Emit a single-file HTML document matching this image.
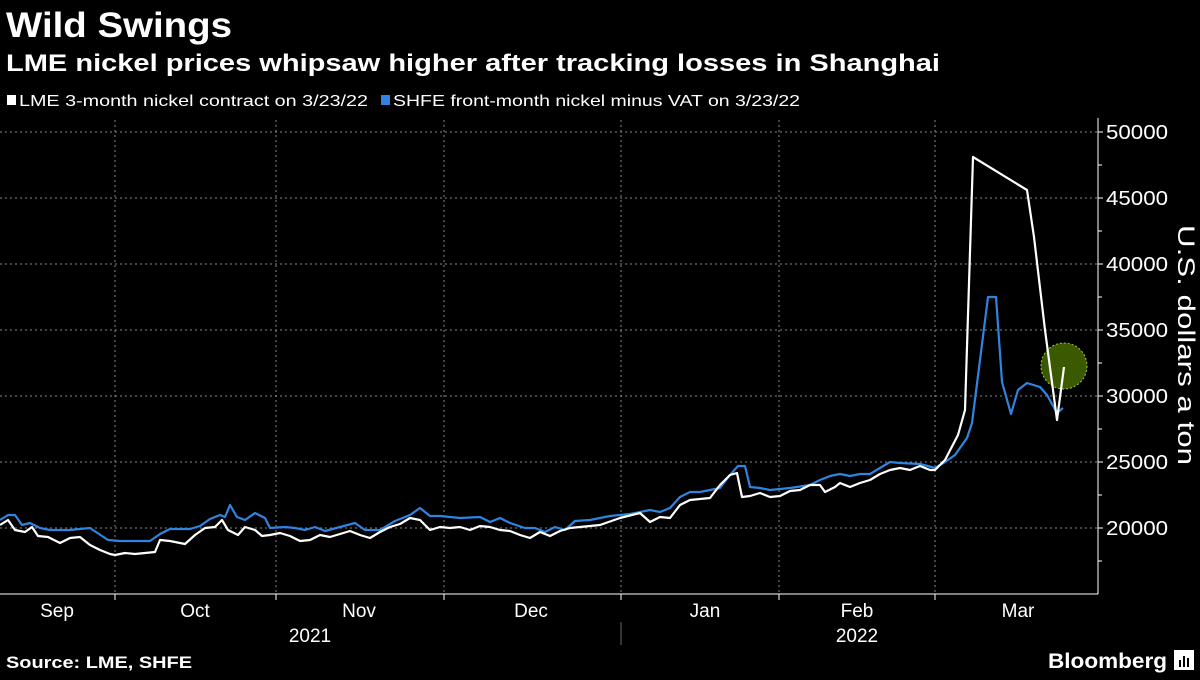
<!DOCTYPE html>
<html><head><meta charset="utf-8"><style>
body{margin:0;background:#000;width:1200px;height:675px;overflow:hidden;font-family:"Liberation Sans",sans-serif;color:#fff}
</style></head><body>
<svg width="1200" height="675" xmlns="http://www.w3.org/2000/svg" font-family="Liberation Sans, sans-serif">
<rect width="1200" height="675" fill="#000"/>
<text x="6" y="37" font-size="35" font-weight="bold" fill="#fff" textLength="226" lengthAdjust="spacingAndGlyphs">Wild Swings</text>
<text x="6" y="71" font-size="24" font-weight="bold" fill="#fff" textLength="934" lengthAdjust="spacingAndGlyphs">LME nickel prices whipsaw higher after tracking losses in Shanghai</text>
<rect x="7" y="95" width="9" height="10" fill="#fff"/>
<text x="19" y="106" font-size="16" fill="#fff" textLength="349" lengthAdjust="spacingAndGlyphs">LME 3-month nickel contract on 3/23/22</text>
<rect x="381" y="95" width="9" height="10" fill="#2f84e0"/>
<text x="393" y="106" font-size="16" fill="#fff" textLength="407" lengthAdjust="spacingAndGlyphs">SHFE front-month nickel minus VAT on 3/23/22</text>
<g stroke="#888" stroke-dasharray="2,3" stroke-width="1">
<line x1="0" y1="132" x2="1098" y2="132"/><line x1="0" y1="198" x2="1098" y2="198"/>
<line x1="0" y1="264" x2="1098" y2="264"/><line x1="0" y1="330" x2="1098" y2="330"/>
<line x1="0" y1="396" x2="1098" y2="396"/><line x1="0" y1="462" x2="1098" y2="462"/>
<line x1="0" y1="528" x2="1098" y2="528"/>
<line x1="115" y1="120" x2="115" y2="594"/><line x1="276" y1="120" x2="276" y2="594"/>
<line x1="444" y1="120" x2="444" y2="594"/><line x1="621" y1="120" x2="621" y2="594"/>
<line x1="779" y1="120" x2="779" y2="594"/><line x1="935" y1="120" x2="935" y2="594"/>
</g>
<line x1="0" y1="594" x2="1098" y2="594" stroke="#fff" stroke-width="1"/>
<line x1="1098" y1="118" x2="1098" y2="594" stroke="#fff" stroke-width="1"/>
<g stroke="#fff" stroke-width="1">
<line x1="115" y1="594" x2="115" y2="600"/><line x1="276" y1="594" x2="276" y2="600"/><line x1="444" y1="594" x2="444" y2="600"/><line x1="621" y1="594" x2="621" y2="600"/><line x1="779" y1="594" x2="779" y2="600"/><line x1="935" y1="594" x2="935" y2="600"/>
<line x1="1098" y1="132" x2="1103" y2="132"/><line x1="1098" y1="198" x2="1103" y2="198"/><line x1="1098" y1="264" x2="1103" y2="264"/><line x1="1098" y1="330" x2="1103" y2="330"/><line x1="1098" y1="396" x2="1103" y2="396"/><line x1="1098" y1="462" x2="1103" y2="462"/><line x1="1098" y1="528" x2="1103" y2="528"/>
<line x1="1098" y1="165" x2="1102" y2="165"/><line x1="1098" y1="231" x2="1102" y2="231"/><line x1="1098" y1="297" x2="1102" y2="297"/><line x1="1098" y1="363" x2="1102" y2="363"/><line x1="1098" y1="429" x2="1102" y2="429"/><line x1="1098" y1="495" x2="1102" y2="495"/><line x1="1098" y1="561" x2="1102" y2="561"/>
</g>
<line x1="621" y1="622" x2="621" y2="645" stroke="#666"/>
<g font-size="20" fill="#fff">
<text x="1106" y="139" textLength="62" lengthAdjust="spacingAndGlyphs">50000</text><text x="1106" y="205" textLength="62" lengthAdjust="spacingAndGlyphs">45000</text><text x="1106" y="271" textLength="62" lengthAdjust="spacingAndGlyphs">40000</text>
<text x="1106" y="337" textLength="62" lengthAdjust="spacingAndGlyphs">35000</text><text x="1106" y="403" textLength="62" lengthAdjust="spacingAndGlyphs">30000</text><text x="1106" y="469" textLength="62" lengthAdjust="spacingAndGlyphs">25000</text><text x="1106" y="535" textLength="62" lengthAdjust="spacingAndGlyphs">20000</text>
</g>
<text transform="translate(1178,345) rotate(90)" font-size="24" fill="#fff" text-anchor="middle" textLength="240" lengthAdjust="spacingAndGlyphs">U.S. dollars a ton</text>
<g font-size="19" fill="#fff" text-anchor="middle">
<text x="57" y="617">Sep</text><text x="195" y="617">Oct</text><text x="359" y="617">Nov</text><text x="531" y="617">Dec</text>
<text x="705" y="617">Jan</text><text x="857" y="617">Feb</text><text x="1018" y="617">Mar</text>
<text x="310" y="642">2021</text><text x="857" y="642">2022</text>
</g>
<circle cx="1064" cy="366" r="23" fill="#3b5a00" stroke="#a8c83c" stroke-width="1" stroke-dasharray="2,2"/>
<polyline fill="none" stroke="#2f84e0" stroke-width="2.2" stroke-linejoin="round" points="0,520 8,515 15,515 22,525 30,523 40,528 50,530 70,530 90,528 108,540 120,541 150,541 160,534 170,529 190,529 200,526 210,519 220,515 225,517 230,505 237,517 245,520 255,513 265,518 270,528 285,527 295,528 305,530 315,527 325,531 340,527 355,523 365,530 380,530 395,521 410,515 420,508 430,516 440,516 460,518 480,517 490,522 500,518 510,523 525,528 535,528 545,532 555,527 565,530 575,521 590,520 610,516 630,514 650,510 660,512 670,508 680,497 690,492 700,492 710,490 720,488 730,475 738,466 745,466 750,487 760,488 770,490 790,488 810,485 820,480 830,476 840,474 850,476 860,474 870,474 880,468 890,462 900,463 920,464 935,468 945,462 955,455 967,438 972,423 980,360 988,297 996,297 1002,382 1011,414 1018,390 1027,383 1040,387 1047,395 1057,413 1063,408"/>
<polyline fill="none" stroke="#fff" stroke-width="2.2" stroke-linejoin="round" points="0,525 8,520 15,530 25,532 32,527 38,536 48,537 60,543 70,538 80,537 90,545 100,550 110,554 115,555 125,553 135,554 145,553 155,552 160,540 170,541 185,544 195,535 205,528 215,527 222,520 228,530 238,535 245,527 255,530 262,536 270,535 280,533 290,536 300,541 310,540 320,535 330,537 340,534 350,531 360,535 370,538 380,532 390,527 400,524 410,518 420,520 430,530 440,527 450,528 460,527 470,530 480,526 490,527 500,530 510,531 520,535 530,538 540,532 550,536 560,531 570,528 580,527 600,525 620,518 640,513 650,522 660,517 670,518 680,505 690,500 700,499 710,498 720,485 730,475 737,473 742,497 750,496 760,493 770,497 780,496 790,491 800,490 810,485 820,485 825,492 835,487 840,483 850,487 860,483 870,480 880,474 890,470 900,468 910,470 920,466 930,470 935,470 945,460 958,435 965,410 973,157 1027,190 1034,237 1045,330 1057,420 1064,367"/>
<text x="6" y="668" font-size="17" font-weight="bold" fill="#fff" textLength="186" lengthAdjust="spacingAndGlyphs">Source: LME, SHFE</text>
<text x="1048" y="668" font-size="21" font-weight="bold" fill="#fff" textLength="119" lengthAdjust="spacingAndGlyphs">Bloomberg</text>
<rect x="1174" y="650" width="20" height="20" fill="#fff"/>
<rect x="1179" y="660" width="2" height="7" fill="#000"/><rect x="1183" y="656" width="2" height="11" fill="#000"/><rect x="1187" y="658" width="2" height="9" fill="#000"/>
</svg>
</body></html>
